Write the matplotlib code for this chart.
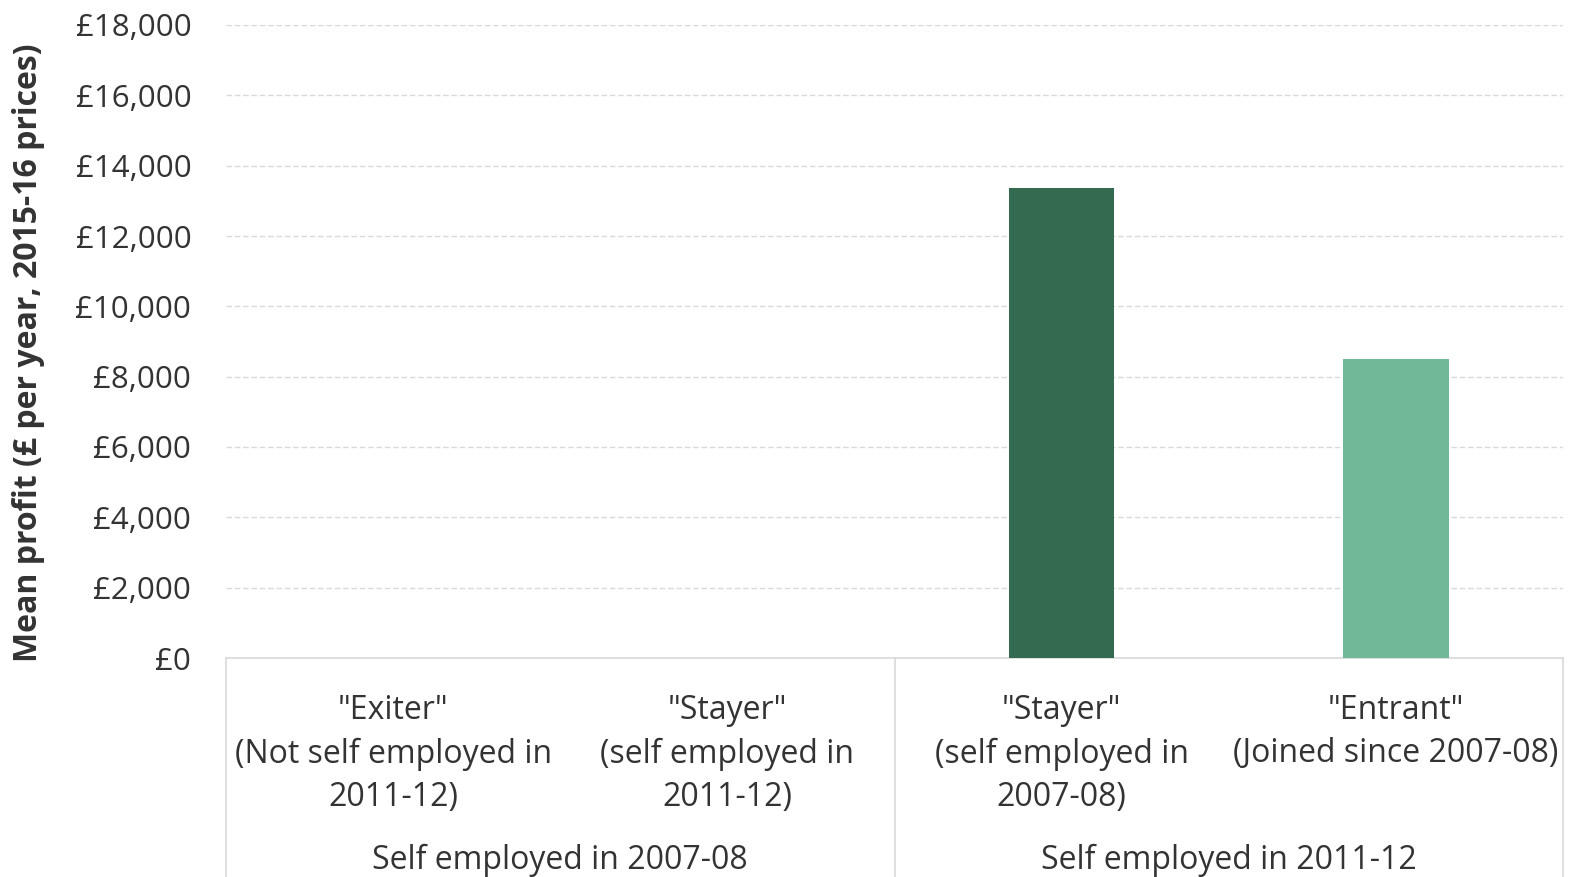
import matplotlib
matplotlib.use("Agg")
import matplotlib.pyplot as plt
import matplotlib.transforms as mtransforms
from matplotlib.ticker import FuncFormatter

plt.rcParams['font.family'] = ['Open Sans', 'DejaVu Sans']

categories = ['"Exiter"\n(Not self employed in\n2011-12)',
              '"Stayer"\n(self employed in\n2011-12)',
              '"Stayer"\n(self employed in\n2007-08)',
              '"Entrant"\n(Joined since 2007-08)']
values = [0, 0, 13370, 8500]
bar_colors = ['#346a50', '#346a50', '#346a50', '#71b897']
groups = ['Self employed in 2007-08', 'Self employed in 2011-12']
group_members = [[0, 1], [2, 3]]
yticks = [0, 2000, 4000, 6000, 8000, 10000, 12000, 14000, 16000, 18000]
ylabel = 'Mean profit (£ per year, 2015-16 prices)'

text_color = '#333333'
line_color = '#d9d9d9'

fig = plt.figure(figsize=(15.71, 8.77), dpi=100)
ax = fig.add_axes([226/1571, 219/877, (1563-226)/1571, (658-25)/877])

x = list(range(len(categories)))
ax.bar(x, values, width=0.315, color=bar_colors, zorder=3)

ax.set_xlim(-0.5, len(categories) - 0.5)
ax.set_ylim(0, 18000)
ax.set_yticks(yticks)
ax.yaxis.set_major_formatter(FuncFormatter(lambda v, p: f'£{int(v):,}'))
ax.set_xticks(x)
ax.set_xticklabels(categories, linespacing=1.41)
ax.tick_params(axis='x', length=0, pad=26, labelsize=23, labelcolor=text_color)
ax.tick_params(axis='y', length=0, pad=25, labelsize=22.5, labelcolor=text_color)

ax.yaxis.grid(True, color=line_color, linestyle=(0, (4, 2)), linewidth=1.0, zorder=0)
ax.set_axisbelow(True)

for s in ['top', 'right', 'left']:
    ax.spines[s].set_visible(False)
ax.spines['bottom'].set_color(line_color)
ax.spines['bottom'].set_linewidth(1.2)

ax.set_ylabel(ylabel, fontsize=23, fontweight='bold', color=text_color)
ax.yaxis.set_label_coords(-0.1354, 0.482)

trans = mtransforms.blended_transform_factory(ax.transData, ax.transAxes)
bounds = [-0.5, 1.5, 3.5]
for b in bounds:
    ax.plot([b, b], [0, -0.36], transform=trans, color=line_color, linewidth=1.2, clip_on=False)

for g, mem in zip(groups, group_members):
    cx = (mem[0] + mem[-1]) / 2
    ax.text(cx, -0.32, g, transform=trans, ha='center', va='center',
            fontsize=23, color=text_color)

fig.savefig('out.png', dpi=100)
